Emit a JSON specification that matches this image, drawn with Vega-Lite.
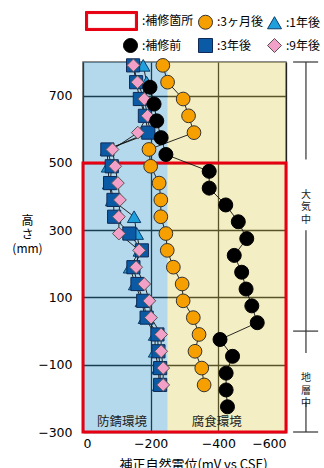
{
  "$schema": "https://vega.github.io/schema/vega-lite/v6.json",
  "width": 203,
  "height": 370,
  "autosize": {"type": "none"},
  "padding": {"left": 83, "top": 62, "right": 38, "bottom": 36},
  "config": {
    "view": {"stroke": "#666", "strokeWidth": 1.5},
    "font": "Noto Sans CJK JP",
    "axis": {
      "labelFont": "DejaVu Sans", "labelFontSize": 12.5, "labelColor": "#000",
      "grid": true, "gridColor": "#222", "gridWidth": 1.3, "gridOpacity": 1,
      "domain": false, "ticks": false, "tickSize": 0,
      "titleFont": "Noto Sans CJK JP", "titleFontWeight": "normal", "titleColor": "#000"
    },
    "legend": {
      "orient": "none", "legendX": 40, "legendY": -49, "direction": "horizontal",
      "columns": 3, "columnPadding": 2, "rowPadding": 3,
      "labelFont": "Noto Sans CJK JP", "labelFontSize": 12, "labelColor": "#000", "labelOffset": 4,
      "symbolSize": 196, "symbolStrokeWidth": 1
    }
  },
  "datasets": {
    "main": [
      {"s": "1年後", "h": 790, "v": -178}, {"s": "1年後", "h": 740, "v": -188}, {"s": "1年後", "h": 690, "v": -172}, {"s": "1年後", "h": 640, "v": -185}, {"s": "1年後", "h": 590, "v": -203},
      {"s": "1年後", "h": 540, "v": -71}, {"s": "1年後", "h": 490, "v": -74}, {"s": "1年後", "h": 440, "v": -77}, {"s": "1年後", "h": 390, "v": -86}, {"s": "1年後", "h": 340, "v": -151},
      {"s": "1年後", "h": 290, "v": -159}, {"s": "1年後", "h": 240, "v": -168}, {"s": "1年後", "h": 190, "v": -139}, {"s": "1年後", "h": 140, "v": -154}, {"s": "1年後", "h": 90, "v": -174},
      {"s": "1年後", "h": 40, "v": -183}, {"s": "1年後", "h": -10, "v": -213}, {"s": "1年後", "h": -60, "v": -213}, {"s": "1年後", "h": -110, "v": -223}, {"s": "1年後", "h": -160, "v": -225},
      {"s": "3年後", "h": 790, "v": -148}, {"s": "3年後", "h": 740, "v": -157}, {"s": "3年後", "h": 690, "v": -168}, {"s": "3年後", "h": 640, "v": -183}, {"s": "3年後", "h": 590, "v": -193},
      {"s": "3年後", "h": 540, "v": -72}, {"s": "3年後", "h": 490, "v": -85}, {"s": "3年後", "h": 440, "v": -80}, {"s": "3年後", "h": 390, "v": -90}, {"s": "3年後", "h": 340, "v": -92},
      {"s": "3年後", "h": 290, "v": -137}, {"s": "3年後", "h": 240, "v": -174}, {"s": "3年後", "h": 190, "v": -149}, {"s": "3年後", "h": 140, "v": -161}, {"s": "3年後", "h": 90, "v": -178},
      {"s": "3年後", "h": 40, "v": -188}, {"s": "3年後", "h": -10, "v": -220}, {"s": "3年後", "h": -60, "v": -223}, {"s": "3年後", "h": -110, "v": -228}, {"s": "3年後", "h": -160, "v": -228},
      {"s": "9年後", "h": 790, "v": -149}, {"s": "9年後", "h": 740, "v": -161}, {"s": "9年後", "h": 690, "v": -181}, {"s": "9年後", "h": 640, "v": -191}, {"s": "9年後", "h": 590, "v": -162},
      {"s": "9年後", "h": 540, "v": -87}, {"s": "9年後", "h": 490, "v": -95}, {"s": "9年後", "h": 440, "v": -103}, {"s": "9年後", "h": 390, "v": -109}, {"s": "9年後", "h": 340, "v": -106},
      {"s": "9年後", "h": 290, "v": -106}, {"s": "9年後", "h": 240, "v": -166}, {"s": "9年後", "h": 190, "v": -157}, {"s": "9年後", "h": 140, "v": -181}, {"s": "9年後", "h": 90, "v": -196},
      {"s": "9年後", "h": 40, "v": -201}, {"s": "9年後", "h": -10, "v": -231}, {"s": "9年後", "h": -60, "v": -231}, {"s": "9年後", "h": -110, "v": -237}, {"s": "9年後", "h": -160, "v": -237},
      {"s": "3ヶ月後", "h": 790, "v": -236}, {"s": "3ヶ月後", "h": 740, "v": -250}, {"s": "3ヶ月後", "h": 690, "v": -296}, {"s": "3ヶ月後", "h": 640, "v": -312}, {"s": "3ヶ月後", "h": 590, "v": -328},
      {"s": "3ヶ月後", "h": 540, "v": -195}, {"s": "3ヶ月後", "h": 490, "v": -200}, {"s": "3ヶ月後", "h": 440, "v": -225}, {"s": "3ヶ月後", "h": 390, "v": -230}, {"s": "3ヶ月後", "h": 340, "v": -230},
      {"s": "3ヶ月後", "h": 290, "v": -245}, {"s": "3ヶ月後", "h": 240, "v": -249}, {"s": "3ヶ月後", "h": 190, "v": -267}, {"s": "3ヶ月後", "h": 140, "v": -293}, {"s": "3ヶ月後", "h": 90, "v": -296},
      {"s": "3ヶ月後", "h": 40, "v": -326}, {"s": "3ヶ月後", "h": -10, "v": -343}, {"s": "3ヶ月後", "h": -60, "v": -331}, {"s": "3ヶ月後", "h": -110, "v": -351}, {"s": "3ヶ月後", "h": -160, "v": -358},
      {"s": "補修前", "h": 725, "v": -198}, {"s": "補修前", "h": 675, "v": -210}, {"s": "補修前", "h": 625, "v": -218}, {"s": "補修前", "h": 575, "v": -231}, {"s": "補修前", "h": 525, "v": -245},
      {"s": "補修前", "h": 475, "v": -373}, {"s": "補修前", "h": 425, "v": -373}, {"s": "補修前", "h": 375, "v": -422}, {"s": "補修前", "h": 325, "v": -459}, {"s": "補修前", "h": 275, "v": -484},
      {"s": "補修前", "h": 225, "v": -447}, {"s": "補修前", "h": 175, "v": -469}, {"s": "補修前", "h": 125, "v": -482}, {"s": "補修前", "h": 75, "v": -499}, {"s": "補修前", "h": 25, "v": -515},
      {"s": "補修前", "h": -25, "v": -405}, {"s": "補修前", "h": -75, "v": -442}, {"s": "補修前", "h": -125, "v": -423}, {"s": "補修前", "h": -175, "v": -423}, {"s": "補修前", "h": -225, "v": -427}
    ],
    "blueZone": [{"v": 0, "v2": -250, "h": 800, "h2": -300}],
    "yellowZone": [{"v": -250, "v2": -600, "h": 800, "h2": -300}],
    "repair": [{"v": 0, "v2": -600, "h": 500, "h2": -300}],
    "zoneText": [{"v": -115, "h": -271, "t": "防錆環境"}, {"v": -395, "h": -271, "t": "腐食環境"}],
    "bracket": [
      {"v": -621, "v2": -695, "h": 800, "h2": 800},
      {"v": -621, "v2": -695, "h": 0, "h2": 0},
      {"v": -621, "v2": -695, "h": -300, "h2": -300},
      {"v": -659, "v2": -659, "h": 800, "h2": 510},
      {"v": -659, "v2": -659, "h": 300, "h2": -65},
      {"v": -659, "v2": -659, "h": -210, "h2": -300}
    ],
    "bracketText": [{"v": -659, "h": 405, "t": "大\n気\n中"}, {"v": -659, "h": -140, "t": "地\n層\n中"}]
  },
  "layer": [
    {
      "data": {"name": "blueZone"},
      "mark": {"type": "rect", "fill": "#057dc0", "opacity": 0.3},
      "encoding": {
        "x": {"field": "v", "type": "quantitative", "scale": {"domain": [0, -600], "nice": false, "zero": false},
          "axis": {"values": [0, -100, -200, -300, -400, -500, -600], "labelExpr": "datum.value % 200 === 0 ? datum.label : ''", "labelPadding": 5, "title": "補正自然電位(mV vs CSE)", "titleFontSize": 13, "titleX": 110, "titleY": 26, "titleBaseline": "top", "titleAlign": "center"}},
        "x2": {"field": "v2"},
        "y": {"field": "h", "type": "quantitative", "scale": {"domain": [-300, 800], "nice": false, "zero": false},
          "axis": {"values": [-300, -200, -100, 0, 100, 200, 300, 400, 500, 600, 700, 800], "labelExpr": "datum.value === 0 ? 'GL' : datum.label", "labelPadding": 11, "title": ["高", "さ", "(mm)"], "titleAngle": 0, "titleFontSize": 12, "titleLineHeight": 14, "titleX": -56, "titleY": 153, "titleBaseline": "top", "titleAlign": "center"}},
        "y2": {"field": "h2"}
      }
    },
    {
      "data": {"name": "yellowZone"},
      "mark": {"type": "rect", "fill": "#d7c637", "opacity": 0.3},
      "encoding": {
        "x": {"field": "v", "type": "quantitative"},
        "x2": {"field": "v2"},
        "y": {"field": "h", "type": "quantitative"},
        "y2": {"field": "h2"}
      }
    },
    {
      "data": {"name": "repair"},
      "mark": {"type": "rect", "fill": null, "stroke": "#e60012", "strokeWidth": 3},
      "encoding": {
        "x": {"field": "v", "type": "quantitative"},
        "x2": {"field": "v2"},
        "y": {"field": "h", "type": "quantitative"},
        "y2": {"field": "h2"}
      }
    },
    {
      "data": {"name": "main"},
      "mark": {"type": "line", "color": "#111", "strokeWidth": 0.9},
      "encoding": {
        "x": {"field": "v", "type": "quantitative"},
        "y": {"field": "h", "type": "quantitative"},
        "detail": {"field": "s"},
        "order": {"field": "h"}
      }
    },
    {
      "data": {"name": "main"},
      "mark": {"type": "point", "filled": true, "opacity": 1, "strokeWidth": 1},
      "encoding": {
        "x": {"field": "v", "type": "quantitative"},
        "y": {"field": "h", "type": "quantitative"},
        "shape": {"field": "s", "type": "nominal",
          "scale": {"domain": ["補修箇所", "3ヶ月後", "1年後", "補修前", "3年後", "9年後"], "range": ["M-6.43,-1.36H1V1.36H-6.43Z M-6.13,-1.06V1.06H0.7V-1.06Z", "circle", "triangle-up", "circle", "square", "diamond"]},
          "legend": {"title": null, "labelExpr": "':' + datum.label"}},
        "fill": {"field": "s", "type": "nominal",
          "scale": {"domain": ["補修箇所", "3ヶ月後", "1年後", "補修前", "3年後", "9年後"], "range": ["#e60012", "#f5a000", "#1fa0dc", "#000000", "#0a5aa5", "#f2a0c8"]},
          "legend": {"title": null, "labelExpr": "':' + datum.label"}},
        "stroke": {"field": "s", "type": "nominal",
          "scale": {"domain": ["補修箇所", "3ヶ月後", "1年後", "補修前", "3年後", "9年後"], "range": ["#e60012", "#333333", "#0b3d6b", "#000000", "#102a55", "#555555"]},
          "legend": {"title": null, "labelExpr": "':' + datum.label"}},
        "size": {"field": "s", "type": "nominal",
          "scale": {"domain": ["補修前", "3ヶ月後", "1年後", "3年後", "9年後"], "range": [196, 165, 140, 130, 220]},
          "legend": null}
      }
    },
    {
      "data": {"name": "zoneText"},
      "mark": {"type": "text", "font": "Noto Sans CJK JP", "fontSize": 12.5, "color": "#222", "baseline": "middle", "align": "center"},
      "encoding": {
        "x": {"field": "v", "type": "quantitative"},
        "y": {"field": "h", "type": "quantitative"},
        "text": {"field": "t"}
      }
    },
    {
      "data": {"name": "bracket"},
      "mark": {"type": "rule", "color": "#333", "strokeWidth": 1.2},
      "encoding": {
        "x": {"field": "v", "type": "quantitative"},
        "x2": {"field": "v2"},
        "y": {"field": "h", "type": "quantitative"},
        "y2": {"field": "h2"}
      }
    },
    {
      "data": {"name": "bracketText"},
      "mark": {"type": "text", "font": "Noto Sans CJK JP", "fontSize": 10, "lineHeight": 12.5, "lineBreak": "\n", "color": "#222", "baseline": "middle", "align": "center"},
      "encoding": {
        "x": {"field": "v", "type": "quantitative"},
        "y": {"field": "h", "type": "quantitative"},
        "text": {"field": "t"}
      }
    }
  ]
}
